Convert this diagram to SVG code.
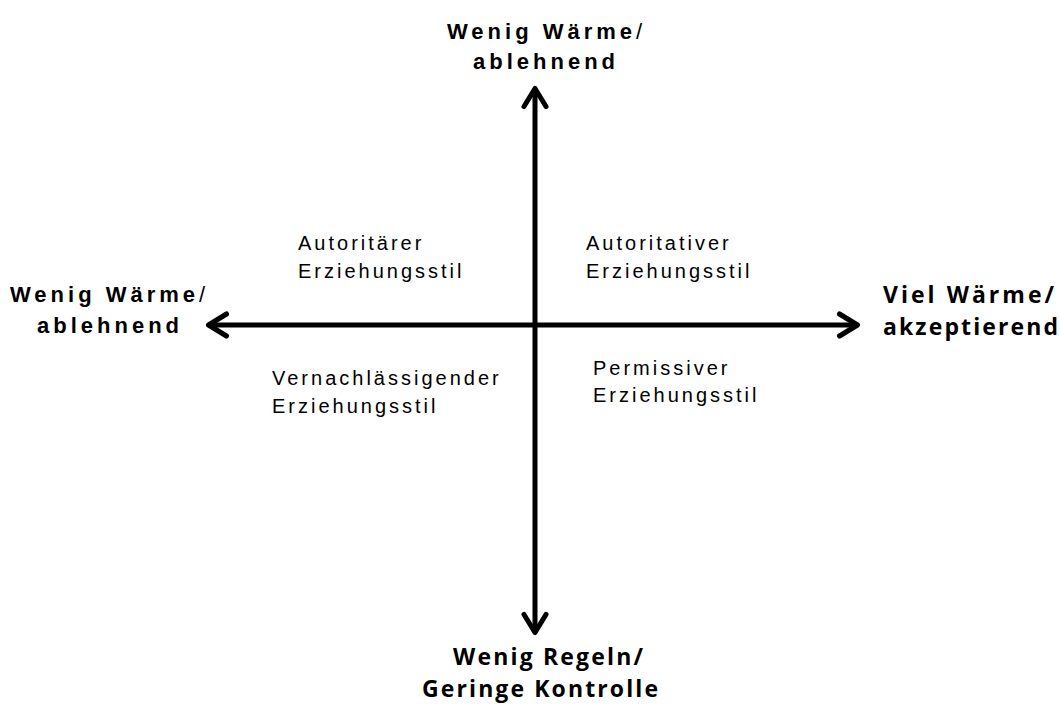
<svg xmlns="http://www.w3.org/2000/svg" width="1060" height="705" viewBox="0 0 1060 705">
<style>
.ax{font-family:"Liberation Sans",Arial,sans-serif;font-weight:bold;font-size:22px;letter-spacing:4px;fill:#000}
.ax .sl{font-weight:normal}
.os{font-family:"Open Sans",sans-serif;font-weight:bold;font-size:23px;fill:#000}
.q{font-family:"Liberation Sans",Arial,sans-serif;font-size:20px;letter-spacing:3px;fill:#000}
.axis{stroke:#000;stroke-width:5;fill:none}
</style>
<defs>
<marker id="ah" markerUnits="userSpaceOnUse" orient="auto-start-reverse" refX="0" refY="0" markerWidth="30" markerHeight="30" overflow="visible">
<path d="M -18 -11 L 0 0 L -18 11" fill="none" stroke="#000" stroke-width="5" stroke-linecap="round" stroke-linejoin="round"/>
</marker>
</defs>
<rect width="1060" height="705" fill="#fff"/>
<g id="connectors">
<line class="axis" x1="535" y1="88.5" x2="535" y2="632.5" marker-start="url(#ah)" marker-end="url(#ah)"/>
<line class="axis" x1="208.5" y1="325" x2="857.5" y2="325" marker-start="url(#ah)" marker-end="url(#ah)"/>
</g>
<g id="top-label">
<text class="ax" x="447" y="39">Wenig Wärme<tspan class="sl">/</tspan></text>
<text class="ax" x="473" y="69">ablehnend</text>
</g>
<g id="left-label">
<text class="ax" x="10" y="302">Wenig Wärme<tspan class="sl">/</tspan></text>
<text class="ax" x="37" y="333">ablehnend</text>
</g>
<g id="right-label">
<text class="os" x="883" y="303" textLength="171" lengthAdjust="spacing">Viel Wärme/</text>
<text class="os" x="883" y="335" textLength="175" lengthAdjust="spacing">akzeptierend</text>
</g>
<g id="bottom-label">
<text class="os" x="453" y="665" textLength="190" lengthAdjust="spacing">Wenig Regeln/</text>
<text class="os" x="422" y="697" textLength="236" lengthAdjust="spacing">Geringe Kontrolle</text>
</g>
<g id="q-autoritaer">
<text class="q" x="298" y="250">Autoritärer</text>
<text class="q" x="298" y="278">Erziehungsstil</text>
</g>
<g id="q-autoritativ">
<text class="q" x="586" y="250">Autoritativer</text>
<text class="q" x="586" y="278">Erziehungsstil</text>
</g>
<g id="q-vernachlaessigend">
<text class="q" x="272" y="385">Vernachlässigender</text>
<text class="q" x="272" y="413">Erziehungsstil</text>
</g>
<g id="q-permissiv">
<text class="q" x="593" y="375">Permissiver</text>
<text class="q" x="593" y="402">Erziehungsstil</text>
</g>
</svg>
